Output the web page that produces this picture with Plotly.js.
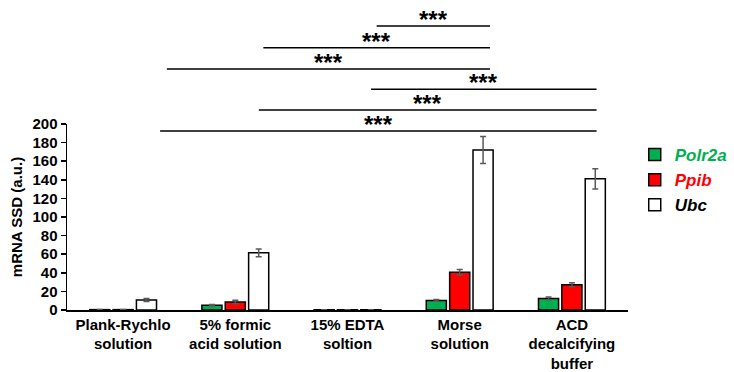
<!DOCTYPE html>
<html>
<head>
<meta charset="utf-8">
<script src="https://cdn.plot.ly/plotly-3.0.1.min.js"></script>
<style>html,body{margin:0;padding:0;background:#fff;}#chart{width:734px;height:372px;}</style>
</head>
<body>
<div id="chart"></div>
<script>
const categories = ["Plank-Rychlo<br>solution", "5% formic<br>acid solution", "15% EDTA<br>soltion", "Morse<br>solution", "ACD<br>decalcifying<br>buffer"];
const polr2a = [0.4, 5.2, 0.3, 10.3, 12.5];
const polr2aErr = [0.2, 0.8, 0.1, 1.0, 1.6];
const ppib = [0.4, 8.6, 0.3, 40.5, 27.2];
const ppibErr = [0.2, 2.0, 0.1, 3.0, 2.2];
const ubc = [10.8, 61.5, 0.3, 172, 141];
const ubcErr = [1.6, 4.2, 0.1, 14.5, 11];
const seriesNames = ["Polr2a", "Ppib", "Ubc"];
const seriesColors = ["#00B050", "#FF0000", "#FFFFFF"];
const legendTextColors = ["#00B050", "#FF0000", "#000000"];
// significance brackets: start / end along the category axis (index units), label
const sigStart = [2.26, 1.25, 0.39, 2.21, 1.21, 0.33];
const sigEnd = [3.27, 3.27, 3.27, 4.22, 4.22, 4.22];
const sigLevel = [1.527, 1.41, 1.296, 1.187, 1.075, 0.962];
const sigLabel = ["***", "***", "***", "***", "***", "***"];

const values = [polr2a, ppib, ubc];
const errs = [polr2aErr, ppibErr, ubcErr];
const xIdx = categories.map((c, i) => i);

const traces = values.map((v, k) => ({
  type: 'bar',
  x: xIdx,
  y: v,
  name: '<b><i>' + seriesNames[k] + '</i></b>',
  marker: {color: seriesColors[k], line: {color: '#000', width: 1.5}},
  error_y: {type: 'data', array: errs[k], visible: true, color: '#595959', thickness: 1.5, width: 3},
  legendgroup: 'g' + k
}));

const shapes = sigStart.map((s, i) => ({
  type: 'line', xref: 'x', yref: 'paper',
  x0: s, x1: sigEnd[i], y0: sigLevel[i], y1: sigLevel[i],
  line: {color: '#000', width: 1.5}
}));

const annotations = sigStart.map((s, i) => ({
  xref: 'x', yref: 'paper', x: (s + sigEnd[i]) / 2, y: sigLevel[i],
  text: '<b>' + sigLabel[i] + '</b>', showarrow: false,
  yanchor: 'bottom', yshift: -9,
  font: {family: 'Liberation Sans, Arial', size: 24, color: '#000'}
}));

const layout = {
  width: 734, height: 372,
  margin: {l: 67, r: 106, t: 124, b: 62, autoexpand: false},
  paper_bgcolor: '#fff', plot_bgcolor: '#fff',
  barmode: 'group', bargap: 0.375, bargroupgap: 0.14,
  font: {family: 'Liberation Sans, Arial', color: '#000'},
  showlegend: true,
  legend: {
    x: 1.012, y: 0.93, xanchor: 'left', yanchor: 'top',
    font: {family: 'Liberation Sans, Arial', size: 17},
    tracegroupgap: 0, itemwidth: 30, bgcolor: 'rgba(0,0,0,0)'
  },
  xaxis: {
    type: 'linear', range: [-0.5, 4.5],
    tickmode: 'array', tickvals: xIdx,
    ticktext: categories.map(c => '<b>' + c + '</b>'),
    showline: true, linecolor: '#000', linewidth: 1.5,
    ticks: '', showgrid: false, zeroline: false,
    tickfont: {size: 15, color: '#000'}
  },
  yaxis: {
    range: [0, 200], dtick: 20, tick0: 0,
    showline: true, linecolor: '#000', linewidth: 1.5,
    ticks: 'outside', ticklen: 5, tickcolor: '#000', tickwidth: 1.5,
    showgrid: false, zeroline: false,
    tickfont: {size: 15, color: '#000'},
    tickprefix: '<b>', ticksuffix: '</b>',
    title: {text: '<b>mRNA SSD (a.u.)</b>', font: {size: 15, color: '#000'}, standoff: 6}
  },
  shapes: shapes,
  annotations: annotations
};

Plotly.newPlot('chart', traces, layout, {displayModeBar: false, staticPlot: true}).then(() => {
  document.querySelectorAll('.legend .traces').forEach((t, i) => {
    const txt = t.querySelector('.legendtext');
    if (txt) txt.style.fill = legendTextColors[i];
  });
});
</script>
</body>
</html>
